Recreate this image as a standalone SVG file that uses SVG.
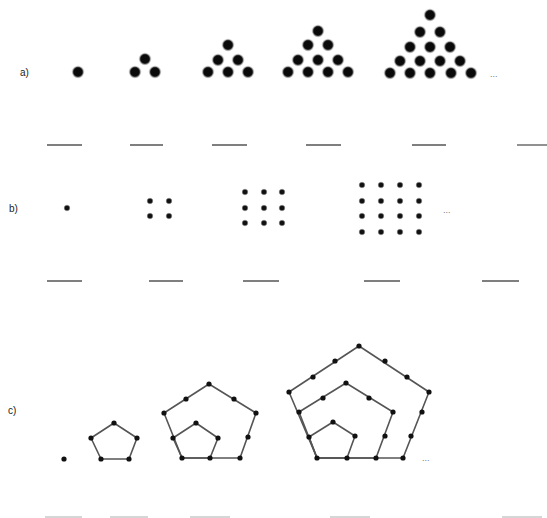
<svg xmlns="http://www.w3.org/2000/svg" width="547" height="518" viewBox="0 0 547 518">
<style>
.bg{fill:#fff}
.lbl{font-family:"Liberation Sans",Arial,sans-serif;font-size:10px;fill:#222}
.ell{font-family:"Liberation Sans",Arial,sans-serif;font-size:9px;fill:#777}
.big{fill:#0a0a0a;stroke:#bbb;stroke-width:1.5;stroke-opacity:0.6}
.sq{fill:#111;stroke:#999;stroke-width:1;stroke-opacity:0.5}
.pd{fill:#111}
.edge{fill:none;stroke:#555;stroke-width:1.6;stroke-linejoin:round}
.blank{stroke:#555;stroke-width:1.3}
.faint{stroke:#c8c8c8;stroke-width:1.3}
</style>
<defs>
<circle id="bd" r="5.5" class="big"/>
<circle id="sd" r="2.8" class="sq"/>
<circle id="pdot" r="2.6" class="pd"/>
</defs>
<rect class="bg" x="0" y="0" width="547" height="518"/>

<g id="labels">
<text class="lbl" x="20" y="76">a)</text>
<text class="lbl" x="9" y="212">b)</text>
<text class="lbl" x="8" y="414">c)</text>
</g>

<!-- a) triangular numbers -->
<g id="tri1">
<use href="#bd" x="78" y="72"/>
</g>
<g id="tri2">
<use href="#bd" x="135" y="72"/><use href="#bd" x="155" y="72"/>
<use href="#bd" x="145" y="59"/>
</g>
<g id="tri3">
<use href="#bd" x="208" y="72"/><use href="#bd" x="228" y="72"/><use href="#bd" x="248" y="72"/>
<use href="#bd" x="218" y="60"/><use href="#bd" x="238" y="60"/>
<use href="#bd" x="228" y="45"/>
</g>
<g id="tri4">
<use href="#bd" x="288" y="72"/><use href="#bd" x="308" y="72"/><use href="#bd" x="328" y="72"/><use href="#bd" x="348" y="72"/>
<use href="#bd" x="298" y="60"/><use href="#bd" x="318" y="60"/><use href="#bd" x="338" y="60"/>
<use href="#bd" x="308" y="45"/><use href="#bd" x="328" y="45"/>
<use href="#bd" x="318" y="31"/>
</g>
<g id="tri5">
<use href="#bd" x="390" y="73"/><use href="#bd" x="410" y="73"/><use href="#bd" x="430" y="73"/><use href="#bd" x="451" y="73"/><use href="#bd" x="471" y="73"/>
<use href="#bd" x="400" y="61"/><use href="#bd" x="420" y="61"/><use href="#bd" x="440" y="61"/><use href="#bd" x="460" y="61"/>
<use href="#bd" x="410" y="47"/><use href="#bd" x="430" y="47"/><use href="#bd" x="450" y="47"/>
<use href="#bd" x="420" y="32"/><use href="#bd" x="440" y="32"/>
<use href="#bd" x="430" y="15"/>
</g>
<text class="ell" x="490" y="77">...</text>

<g id="blanks-a">
<line class="blank" x1="47" y1="145" x2="82" y2="145"/>
<line class="blank" x1="130" y1="145" x2="163" y2="145"/>
<line class="blank" x1="212" y1="145" x2="247" y2="145"/>
<line class="blank" x1="306" y1="145" x2="341" y2="145"/>
<line class="blank" x1="412" y1="145" x2="446" y2="145"/>
<line class="blank" x1="517" y1="145" x2="547" y2="145"/>
</g>

<!-- b) square numbers -->
<g id="sq1"><use href="#sd" x="67" y="208"/></g>
<g id="sq2">
<use href="#sd" x="150" y="201"/><use href="#sd" x="169" y="201"/>
<use href="#sd" x="150" y="216"/><use href="#sd" x="169" y="216"/>
</g>
<g id="sq3">
<use href="#sd" x="245" y="192"/><use href="#sd" x="264" y="192"/><use href="#sd" x="282" y="192"/>
<use href="#sd" x="245" y="208"/><use href="#sd" x="264" y="208"/><use href="#sd" x="282" y="208"/>
<use href="#sd" x="245" y="223"/><use href="#sd" x="264" y="223"/><use href="#sd" x="282" y="223"/>
</g>
<g id="sq4">
<use href="#sd" x="362" y="185"/><use href="#sd" x="381" y="185"/><use href="#sd" x="400" y="185"/><use href="#sd" x="419" y="185"/>
<use href="#sd" x="362" y="201"/><use href="#sd" x="381" y="201"/><use href="#sd" x="400" y="201"/><use href="#sd" x="419" y="201"/>
<use href="#sd" x="362" y="216"/><use href="#sd" x="381" y="216"/><use href="#sd" x="400" y="216"/><use href="#sd" x="419" y="216"/>
<use href="#sd" x="362" y="232"/><use href="#sd" x="381" y="232"/><use href="#sd" x="400" y="232"/><use href="#sd" x="419" y="232"/>
</g>
<text class="ell" x="443" y="213">...</text>

<g id="blanks-b">
<line class="blank" x1="47" y1="281" x2="82" y2="281"/>
<line class="blank" x1="149" y1="281" x2="183" y2="281"/>
<line class="blank" x1="243" y1="281" x2="279" y2="281"/>
<line class="blank" x1="364" y1="281" x2="400" y2="281"/>
<line class="blank" x1="482" y1="281" x2="519" y2="281"/>
</g>

<!-- c) pentagonal numbers -->
<g id="connectors">
<polygon class="edge" points="114,423 137,438 129,459 101,459 91,438"/>
<polygon class="edge" points="209,384 256,413 240,458 182,458 164,413"/>
<polygon class="edge" points="196,423 218,438 210,458 182,458 173,438"/>
<polygon class="edge" points="359,346 429,392 403,458 317,458 289,392"/>
<polygon class="edge" points="346,383 393,412 376,458 317,458 299,412"/>
<polygon class="edge" points="333,422 355,436 347,458 317,458 309,437"/>
</g>
<g id="pent1"><use href="#pdot" x="64" y="459"/></g>
<g id="pent2">
<use href="#pdot" x="114" y="423"/><use href="#pdot" x="137" y="438"/><use href="#pdot" x="129" y="459"/><use href="#pdot" x="101" y="459"/><use href="#pdot" x="91" y="438"/>
</g>
<g id="pent3">
<use href="#pdot" x="209" y="384"/><use href="#pdot" x="186" y="399"/><use href="#pdot" x="164" y="413"/>
<use href="#pdot" x="234" y="399"/><use href="#pdot" x="256" y="413"/><use href="#pdot" x="248" y="437"/>
<use href="#pdot" x="240" y="458"/><use href="#pdot" x="210" y="458"/><use href="#pdot" x="182" y="458"/>
<use href="#pdot" x="173" y="438"/><use href="#pdot" x="196" y="423"/><use href="#pdot" x="218" y="438"/>
</g>
<g id="pent4">
<use href="#pdot" x="359" y="346"/><use href="#pdot" x="335" y="361"/><use href="#pdot" x="313" y="377"/><use href="#pdot" x="289" y="392"/>
<use href="#pdot" x="385" y="361"/><use href="#pdot" x="407" y="377"/><use href="#pdot" x="429" y="392"/>
<use href="#pdot" x="422" y="412"/><use href="#pdot" x="411" y="436"/><use href="#pdot" x="403" y="458"/>
<use href="#pdot" x="376" y="458"/><use href="#pdot" x="347" y="458"/><use href="#pdot" x="317" y="458"/>
<use href="#pdot" x="299" y="412"/><use href="#pdot" x="309" y="437"/>
<use href="#pdot" x="346" y="383"/><use href="#pdot" x="323" y="398"/><use href="#pdot" x="369" y="398"/><use href="#pdot" x="393" y="412"/><use href="#pdot" x="385" y="436"/>
<use href="#pdot" x="333" y="422"/><use href="#pdot" x="355" y="436"/>
</g>
<text class="ell" x="422" y="461">...</text>

<g id="blanks-c">
<line class="faint" x1="45" y1="517" x2="82" y2="517"/>
<line class="faint" x1="110" y1="517" x2="148" y2="517"/>
<line class="faint" x1="190" y1="517" x2="230" y2="517"/>
<line class="faint" x1="330" y1="517" x2="370" y2="517"/>
<line class="faint" x1="502" y1="517" x2="542" y2="517"/>
</g>
</svg>
